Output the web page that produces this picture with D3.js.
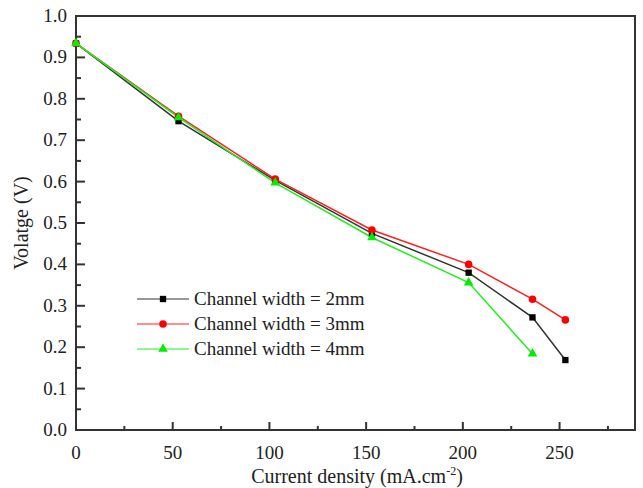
<!DOCTYPE html>
<html><head><meta charset="utf-8">
<script src="https://cdn.jsdelivr.net/npm/d3@7/dist/d3.min.js"></script>
</head><body><svg id="c" width="643" height="488"></svg>
<script>
const xs2 = [0, 53, 103, 153, 203, 236, 253];
const v2 = [0.934, 0.746, 0.603, 0.475, 0.380, 0.272, 0.169];
const xs3 = [0, 53, 103, 153, 203, 236, 253];
const v3 = [0.934, 0.758, 0.606, 0.483, 0.400, 0.316, 0.266];
const xs4 = [0, 53, 103, 153, 203, 236];
const v4 = [0.934, 0.755, 0.597, 0.465, 0.356, 0.184];
const seriesNames = ["Channel width = 2mm", "Channel width = 3mm", "Channel width = 4mm"];
const xTicks = [0, 50, 100, 150, 200, 250];
const yTicks = [0.0, 0.1, 0.2, 0.3, 0.4, 0.5, 0.6, 0.7, 0.8, 0.9, 1.0];

d3.select("body").style("margin", "0px").style("background", "#fff");
const svg = d3.select("#c").style("display", "block");
const FF = d => "'Liberation Serif', monospace";
const L = 76, R = 635, T = 16, B = 430;
const x = d3.scaleLinear().domain([0, 289]).range([L, R]);
const y = d3.scaleLinear().domain([0, 1]).range([B, T]);

const series = [
  {name: seriesNames[0], xs: xs2, vs: v2, color: "#000", line: "#333", sym: d3.symbolSquare, size: 40},
  {name: seriesNames[1], xs: xs3, vs: v3, color: "#ff0000", line: "#ff2020", sym: d3.symbolCircle, size: 45},
  {name: seriesNames[2], xs: xs4, vs: v4, color: "#00ee00", line: "#22ee22", sym: d3.symbolTriangle, size: 40}
];

svg.append("rect").attr("x", L).attr("y", T).attr("width", R - L).attr("height", B - T)
  .attr("fill", "none").attr("stroke", "#333").attr("stroke-width", 2);

const xMinor = d3.range(25, 289, 50);
svg.append("g").selectAll("line").data(xTicks).join("line")
  .attr("x1", d => x(d)).attr("x2", d => x(d)).attr("y1", B).attr("y2", B - 8)
  .attr("stroke", "#333").attr("stroke-width", 2);
svg.append("g").selectAll("line").data(xMinor).join("line")
  .attr("x1", d => x(d)).attr("x2", d => x(d)).attr("y1", B).attr("y2", B - 4)
  .attr("stroke", "#333").attr("stroke-width", 2);
svg.append("g").selectAll("text").data(xTicks).join("text")
  .attr("x", d => x(d)).attr("y", 459).attr("text-anchor", "middle").attr("fill", "#222")
  .attr("font-size", 19).style("font-family", FF).text(d => d);

const yMinor = d3.range(0.05, 1, 0.1);
svg.append("g").selectAll("line").data(yTicks).join("line")
  .attr("x1", L).attr("x2", L + 9).attr("y1", d => y(d)).attr("y2", d => y(d))
  .attr("stroke", "#333").attr("stroke-width", 2);
svg.append("g").selectAll("line").data(yMinor).join("line")
  .attr("x1", L).attr("x2", L + 5).attr("y1", d => y(d)).attr("y2", d => y(d))
  .attr("stroke", "#333").attr("stroke-width", 2);
svg.append("g").selectAll("text").data(yTicks).join("text")
  .attr("x", 67).attr("y", d => y(d) + 6).attr("text-anchor", "end").attr("fill", "#222")
  .attr("font-size", 19).style("font-family", FF).text(d => d.toFixed(1));

const xt = svg.append("text").attr("x", 357).attr("y", 483).attr("text-anchor", "middle")
  .attr("fill", "#222").attr("font-size", 20).style("font-family", FF);
xt.append("tspan").text("Current density (mA.cm");
xt.append("tspan").attr("font-size", 12).attr("dy", -8).text("-2");
xt.append("tspan").attr("dy", 8).text(")");
svg.append("text").attr("transform", "translate(28,223) rotate(-90)").attr("text-anchor", "middle")
  .attr("fill", "#222").attr("font-size", 20).style("font-family", FF).text("Volatge (V)");

const line = d3.line().x(d => x(d[0])).y(d => y(d[1]));
series.forEach(s => {
  const pts = s.xs.map((xv, i) => [xv, s.vs[i]]);
  svg.append("path").datum(pts).attr("d", line).attr("fill", "none")
    .attr("stroke", s.line).attr("stroke-width", 1.5);
});
series.forEach(s => {
  const pts = s.xs.map((xv, i) => [xv, s.vs[i]]);
  svg.append("g").selectAll("path").data(pts).join("path")
    .attr("transform", d => `translate(${x(d[0])},${y(d[1])})`)
    .attr("d", d3.symbol().type(s.sym).size(s.size)).attr("fill", s.color);
});

const legY = [299, 324, 349];
series.forEach((s, i) => {
  const g = svg.append("g");
  g.append("line").attr("x1", 137).attr("x2", 189).attr("y1", legY[i]).attr("y2", legY[i])
    .attr("stroke", s.line).attr("stroke-width", 1.2);
  g.append("path").attr("transform", `translate(163,${legY[i]})`)
    .attr("d", d3.symbol().type(s.sym).size(s.size)).attr("fill", s.color);
  g.append("text").attr("x", 194).attr("y", legY[i] + 6).attr("fill", "#222")
    .attr("font-size", 19).style("font-family", FF).text(s.name);
});
</script></body></html>
